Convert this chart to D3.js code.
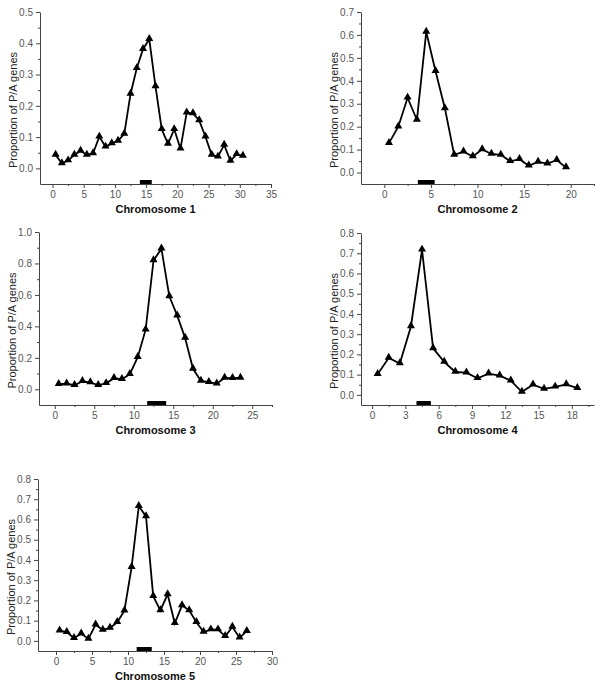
<!DOCTYPE html>
<html>
<head>
<meta charset="utf-8">
<script src="https://cdn.jsdelivr.net/npm/d3@7"></script>
<style>
  body { margin: 0; background: #fff; }
  svg { font-family: "Liberation Sans", Arial, sans-serif; }
</style>
</head>
<body>
<div id="chart"></div>
<script>
// proportion of P/A genes per 1-unit bin (points at bin centres 0.5, 1.5, ...)
var chr1 = [0.043, 0.016, 0.025, 0.043, 0.056, 0.043, 0.048, 0.101, 0.069, 0.080, 0.088,
            0.110, 0.238, 0.320, 0.381, 0.413, 0.262, 0.125, 0.078, 0.125, 0.063, 0.178,
            0.176, 0.153, 0.101, 0.043, 0.037, 0.075, 0.024, 0.045, 0.040];
var chr2 = [0.128, 0.200, 0.326, 0.229, 0.613, 0.442, 0.280, 0.077, 0.091, 0.070, 0.101,
            0.081, 0.077, 0.049, 0.058, 0.030, 0.046, 0.039, 0.054, 0.022];
var chr3 = [0.032, 0.036, 0.026, 0.051, 0.043, 0.026, 0.038, 0.070, 0.064, 0.096, 0.204,
            0.379, 0.819, 0.894, 0.591, 0.468, 0.326, 0.130, 0.053, 0.045, 0.036, 0.072,
            0.070, 0.072];
var chr4 = [0.102, 0.183, 0.155, 0.338, 0.717, 0.230, 0.163, 0.113, 0.110, 0.082, 0.105,
            0.095, 0.070, 0.015, 0.050, 0.030, 0.040, 0.052, 0.033];
var chr5 = [0.051, 0.043, 0.013, 0.036, 0.010, 0.080, 0.054, 0.064, 0.092, 0.149, 0.364,
            0.666, 0.615, 0.221, 0.151, 0.230, 0.087, 0.175, 0.151, 0.092, 0.044, 0.056,
            0.056, 0.023, 0.069, 0.016, 0.048];

// centromere position (black bar on the x axis)
var centromeres = [[14.0, 15.9], [3.6, 5.4], [11.7, 14.1], [4.0, 5.3], [11.2, 13.3]];

var xTicks = [d3.range(0, 36, 5), d3.range(0, 21, 5), d3.range(0, 26, 5), d3.range(0, 19, 3), d3.range(0, 31, 5)];
var yTicks = [d3.range(0, 0.51, 0.1), d3.range(0, 0.71, 0.1), d3.range(0, 1.01, 0.2), d3.range(0, 0.81, 0.1), d3.range(0, 0.81, 0.1)];
var names = ["Chromosome 1", "Chromosome 2", "Chromosome 3", "Chromosome 4", "Chromosome 5"];

// panel layout
var panels = [
  {data: chr1, left: 40, right: 271, top: 12, bottom: 184, xd: [-2, 35], yd: [-0.05, 0.5]},
  {data: chr2, left: 361, right: 594, top: 12, bottom: 184, xd: [-2.5, 22.5], yd: [-0.05, 0.7]},
  {data: chr3, left: 39, right: 272, top: 232, bottom: 405, xd: [-2, 27.5], yd: [-0.1, 1.0]},
  {data: chr4, left: 361, right: 594, top: 233, bottom: 405, xd: [-1, 20], yd: [-0.05, 0.8]},
  {data: chr5, left: 38, right: 272, top: 479, bottom: 651, xd: [-2.5, 30], yd: [-0.05, 0.8]}
];

var svg = d3.select("#chart").append("svg")
    .attr("width", 600)
    .attr("height", 684);

var tri = d3.symbol().type(d3.symbolTriangle).size(28);

panels.forEach(function(p, i) {
    var x = d3.scaleLinear().domain(p.xd).range([p.left, p.right]);
    var y = d3.scaleLinear().domain(p.yd).range([p.bottom, p.top]);
    var g = svg.append("g");

    var xt = xTicks[i], yt = yTicks[i];
    var xstep = xt[1] - xt[0], ystep = yt[1] - yt[0];
    var xMinor = d3.range(xt[0] + xstep / 2, p.xd[1] + 1e-6, xstep);
    var yMinor = d3.range(yt[0] + ystep / 2, p.yd[1] + 1e-6, ystep);

    // x axis
    var gx = g.append("g").attr("transform", "translate(0," + p.bottom + ")")
        .call(d3.axisBottom(x).tickValues(xt).tickSize(4).tickSizeOuter(0).tickPadding(3)
              .tickFormat(d3.format("d")));
    gx.append("g").call(d3.axisBottom(x).tickValues(xMinor).tickSize(2).tickFormat(""))
        .select(".domain").remove();

    // y axis
    var gy = g.append("g").attr("transform", "translate(" + p.left + ",0)")
        .call(d3.axisLeft(y).tickValues(yt).tickSize(4).tickSizeOuter(0).tickPadding(3)
              .tickFormat(d3.format(".1f")));
    gy.append("g").call(d3.axisLeft(y).tickValues(yMinor).tickSize(2).tickFormat(""))
        .select(".domain").remove();

    g.selectAll(".domain, .tick line").attr("stroke", "#444").attr("stroke-width", 1);
    g.selectAll(".tick text").attr("fill", "#555").style("font-size", "10px");

    // centromere bar
    var c = centromeres[i];
    g.append("rect")
        .attr("x", x(c[0]))
        .attr("y", p.bottom - 4)
        .attr("width", x(c[1]) - x(c[0]))
        .attr("height", 4)
        .attr("fill", "#000");

    var pts = p.data.map(function(v, k) { return [k + 0.5, v]; });

    g.append("path")
        .datum(pts)
        .attr("fill", "none")
        .attr("stroke", "#000")
        .attr("stroke-width", 1.8)
        .attr("d", d3.line().x(function(d) { return x(d[0]); }).y(function(d) { return y(d[1]); }));

    g.selectAll(".pt").data(pts).enter().append("path")
        .attr("class", "pt")
        .attr("d", tri)
        .attr("fill", "#000")
        .attr("transform", function(d) { return "translate(" + x(d[0]) + "," + (y(d[1]) - 0.5) + ")"; });

    // labels
    g.append("text")
        .attr("x", (p.left + p.right) / 2)
        .attr("y", p.bottom + 29)
        .attr("text-anchor", "middle")
        .style("font-size", "11px")
        .style("font-weight", "bold")
        .attr("fill", "#111")
        .text(names[i]);

    g.append("text")
        .attr("transform", "translate(" + (p.left - 23) + "," + ((p.top + p.bottom) / 2 + 12) + ") rotate(-90)")
        .attr("text-anchor", "middle")
        .style("font-size", "11px")
        .attr("fill", "#222")
        .text("Proportion of P/A genes");
});
</script>
</body>
</html>
